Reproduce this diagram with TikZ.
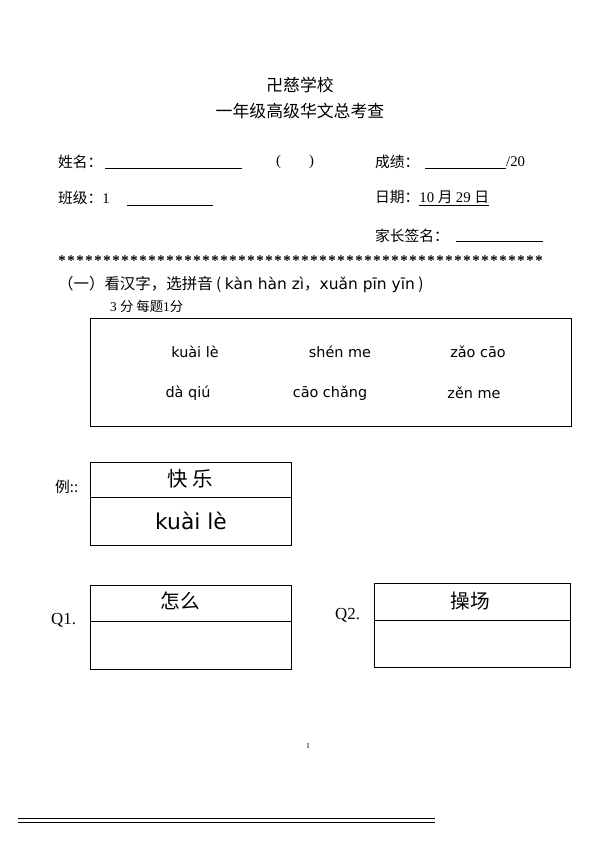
\documentclass[tikz,border=0pt]{standalone}
\usepackage{fontspec}
\setmainfont{Liberation Serif}
\newfontfamily\cjk{Noto Sans CJK SC}
\newfontfamily\pinyin{DejaVu Sans}
\usetikzlibrary{positioning}
\tikzset{
  txt/.style={anchor=west, inner sep=0pt, font=\cjk\fontsize{21}{24}\selectfont},
  py/.style={inner sep=0pt, font=\pinyin\fontsize{20.5}{24}\selectfont},
  blank/.style={line width=0.8pt},
  box/.style={line width=1.2pt}
}
\begin{document}
\begin{tikzpicture}[x=0.05cm,y=-0.05cm]
  \useasboundingbox (0,0) rectangle (600,849);
  % title
  \node[inner sep=0pt, font=\cjk\fontsize{24}{28}\selectfont] (school) at (300,85) {卍慈学校};
  \node[inner sep=0pt, font=\cjk\fontsize{24}{28}\selectfont] (title) at (300,111) {一年级高级华文总考查};
  % header fields
  \node[txt] (name) at (58,162) {姓名：};
  \draw[blank] (105,168) -- (242,168);
  \node[txt] (paren) at (276,162) {\rmfamily (\hspace{40pt})};
  \node[txt] (score) at (375,162) {成绩：};
  \draw[blank] (425,168) -- (506,168);
  \node[txt] (total) at (506,162) {\rmfamily /20};
  \node[txt] (class) at (58,198) {班级：\rmfamily 1};
  \draw[blank] (127,205) -- (213,205);
  \node[txt] (date) at (375,198) {日期：\underline{\rmfamily 10 \cjk 月 \rmfamily 29 \cjk 日}};
  \node[txt] (sign) at (375,236) {家长签名：};
  \draw[blank] (456,241) -- (543,241);
  \foreach \i in {0,...,53}
    \node[inner sep=0pt, font=\rmfamily\bfseries\fontsize{21}{24}\selectfont] (star\i) at (62+\i*9,261) {*};
  % section one
  \node[txt, font=\cjk\fontsize{22}{26}\selectfont] (sec) at (58,284)
    {（一）看汉字，选拼音 ( {\pinyin kàn hàn zì}，{\pinyin xuǎn pīn yīn} )};
  \node[txt, font=\cjk\fontsize{19}{22}\selectfont] (marks) at (110,306) {\rmfamily 3 \cjk 分 每题\rmfamily 1\cjk 分};
  \draw[box] (90,318) rectangle (571,426);
  \node[py] (p1) at (195,352) {kuài lè};
  \node[py] (p2) at (340,352) {shén me};
  \node[py] (p3) at (478,352) {zǎo cāo};
  \node[py] (p4) at (188,393) {dà qiú};
  \node[py] (p5) at (330,393) {cāo chǎng};
  \node[py] (p6) at (474,393) {zěn me};
  % example
  \node[txt, font=\cjk\fontsize{21}{24}\selectfont] (ex) at (55,487) {例::};
  \draw[box] (90,462) rectangle (291,545);
  \draw[box] (90,497) -- (291,497);
  \node[inner sep=0pt, font=\cjk\fontsize{29}{32}\selectfont] (exhz) at (190,479) {快 乐};
  \node[py, font=\pinyin\fontsize{31}{34}\selectfont] (expy) at (191,521) {kuài lè};
  % questions
  \node[txt, font=\rmfamily\fontsize{24}{26}\selectfont] (q1) at (51,620) {Q1.};
  \draw[box] (90,585) rectangle (291,669);
  \draw[box] (90,621) -- (291,621);
  \node[inner sep=0pt, font=\cjk\fontsize{28}{31}\selectfont] (q1hz) at (180,601) {怎么};
  \node[txt, font=\rmfamily\fontsize{24}{26}\selectfont] (q2) at (335,615) {Q2.};
  \draw[box] (374,583) rectangle (570,667);
  \draw[box] (374,620) -- (570,620);
  \node[inner sep=0pt, font=\cjk\fontsize{28}{31}\selectfont] (q2hz) at (470,601) {操场};
  % footer
  \node[inner sep=0pt, font=\rmfamily\fontsize{11}{13}\selectfont] (page) at (308,746) {1};
  \draw[line width=0.7pt] (18,818) -- (435,818);
  \draw[line width=0.7pt] (18,822) -- (435,822);
\end{tikzpicture}
\end{document}
